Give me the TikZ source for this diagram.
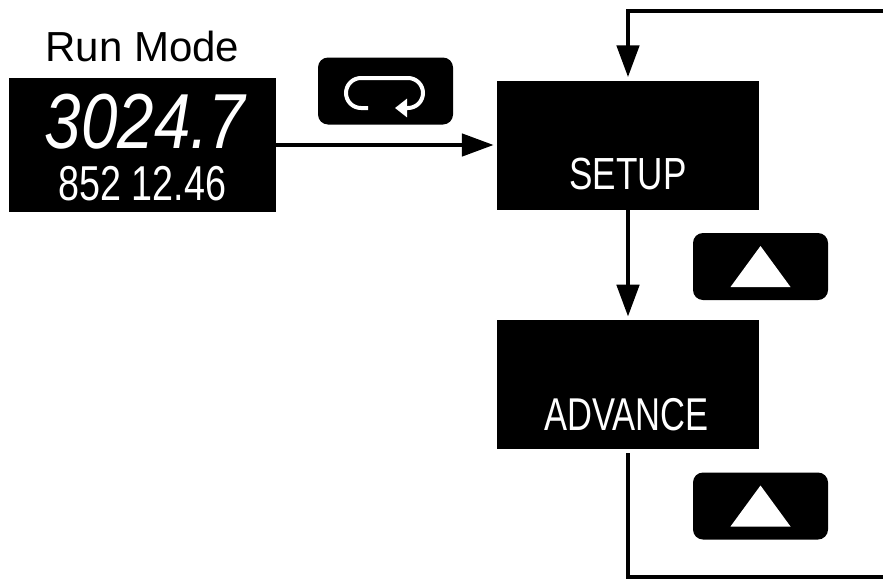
\documentclass[tikz,border=0pt]{standalone}
\usepackage{fontspec}
\setmainfont{Liberation Sans}
\usetikzlibrary{arrows.meta, positioning, calc}
\tikzset{arrow/.style = {
  -{Triangle[length=32pt, width=22pt]},
  shorten >= 3pt,
  line width = 4.8pt,
  draw=black
  }}
\tikzset{line/.style = {
  line width = 4.8pt,
  draw=black
  }}
\tikzset{lcd/.style = {
  % Display window:
  rectangle,
  fill=black,
  inner sep=0pt,
  minimum width=262pt,
  minimum height=129pt
  }}
\tikzset{key/.style = {
  % Push button:
  rectangle,
  fill=black,
  rounded corners=10pt,
  minimum width=135pt,
  minimum height=67pt
  }}
\tikzset{seg/.style = {
  % Display text
  text=white,
  inner sep=0pt,
  anchor=base
  }}
\tikzset{icon/.style = {
  draw=white,
  line width=4pt,
  rounded corners=15pt,
  -{Triangle[length=12pt, width=18pt]}
  }}

\begin{document}
\begin{tikzpicture}[x=1pt, y=-1pt]
\useasboundingbox (0,0) rectangle (883,581);

% NODES
\node (run) [lcd, minimum width=267pt, minimum height=134pt] at (142.5,145) {};
\node (runlabel) [anchor=base, inner sep=0pt, font=\fontsize{42}{42}\selectfont] at ([yshift=16pt]run.north) {Run Mode};
\node (value) [seg, xscale=0.84, font=\fontsize{78}{78}\selectfont\itshape] at ([xshift=2.5pt, yshift=-3pt]run.center) {3024.7};
\node (total) [seg, xscale=0.77, font=\fontsize{49}{49}\selectfont] at ([yshift=-55pt]run.center) {852 12.46};

\node (setup) [lcd] at (628,145) {};
\node (setuptxt) [seg, xscale=0.78, font=\fontsize{45}{45}\selectfont] at ([yshift=20pt]setup.south) {SETUP};

\node (advance) [lcd, below=110pt of setup] {};
\node (advancetxt) [seg, xscale=0.75, font=\fontsize{46}{46}\selectfont] at ([xshift=-1.5pt, yshift=19pt]advance.south) {ADVANCE};

\node (loopkey) [key] at (385.5,91) {};
\node (upkeyA) [key] at (760.5,266.5) {};
\node (upkeyB) [key] at (760.5,506) {};

% key symbols
\draw [icon, shift={(loopkey.center)}] (-17.5,17) -- (-39.5,17) -- (-39.5,-13) -- (37.5,-13) -- (37.5,17) -- (9.5,17);
\fill [white, shift={(upkeyA.center)}] (-30,20.5) -- (30,20.5) -- (0,-20.5) -- cycle;
\fill [white, shift={(upkeyB.center)}] (-30,20.5) -- (30,20.5) -- (0,-20.5) -- cycle;

% loop ends
\coordinate (topright) at (883,11);
\coordinate (botright) at (883,577);

% arrows
\draw [arrow] (run) -- (setup);
\draw [arrow] (topright) -| (setup.north);
\draw [arrow] (setup) -- (advance);
\draw [line, shorten <= 4pt] (advance) |- (botright);
\end{tikzpicture}
\end{document}
